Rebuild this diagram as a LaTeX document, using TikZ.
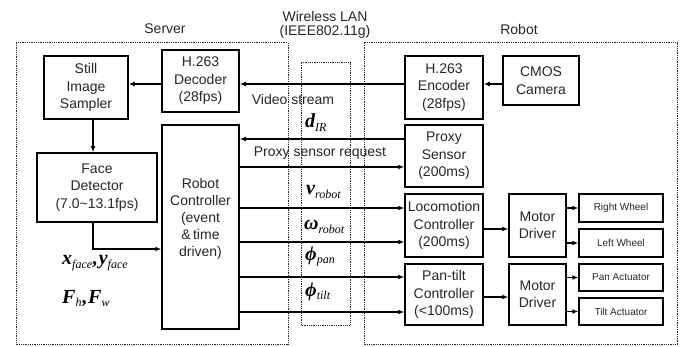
\documentclass[tikz,border=0pt]{standalone}
\usepackage{fontspec}
\setmainfont{Liberation Sans}
\newfontfamily\mserif{Liberation Serif}
\usetikzlibrary{arrows.meta}
\newcommand\mv[2]{{\mserif\bfseries\itshape\fontsize{20}{20}\selectfont #1}\raisebox{-3.5pt}{\mserif\itshape\fontsize{12}{12}\selectfont #2}}
\newcommand\mcomma{{\mserif\bfseries\fontsize{20}{20}\selectfont,}}
\begin{document}
\begin{tikzpicture}[x=1pt,y=-1pt,
  blk/.style={draw, line width=1.5pt, font=\fontsize{14}{17.5}\selectfont, align=center, inner sep=0pt, text=black!85},
  sm/.style={draw, line width=1.5pt, font=\fontsize{10}{11}\selectfont, align=center, inner sep=0pt, text=black!85},
  arr/.style={line width=1.3pt, -{Latex[length=6pt,width=5pt]}},
  dotbox/.style={draw, line width=1pt, dash pattern=on 1pt off 0.8pt, black!85},
  lbl/.style={font=\fontsize{14}{15}\selectfont, text=black!85, inner sep=0pt},
  ml/.style={anchor=base west, inner sep=0pt},
  ]
\useasboundingbox (0,0) rectangle (682,347);
% dotted regions
\draw[dotbox] (16,43) rectangle (288,344);
\draw[dotbox] (364,43) rectangle (677,344);
\draw[dotbox] (301,63) rectangle (350,325);
\node[lbl] (tserver) at (165,29) {Server};
\node[lbl] (trobot) at (519,29) {Robot};
\node[lbl] (twl1) at (325,16) {Wireless LAN};
\node[lbl] (twl2) at (325,32) {(IEEE802.11g)};
% server blocks
\node[blk, minimum width=84pt, minimum height=63pt] (still) at (86,87.5) {Still\\Image\\Sampler};
\node[blk, minimum width=77pt, minimum height=62pt] (dec) at (200.5,81) {H.263\\Decoder\\(28fps)};
\node[blk, minimum width=120pt, minimum height=69pt] (face) at (97,187.5) {Face\\Detector\\(7.0\textasciitilde13.1fps)};
\node[blk, minimum width=77pt, minimum height=204pt] (ctrl) at (200.5,227) {};
\node[lbl, align=center, font=\fontsize{14}{17}\selectfont] (ctrltxt) at (ctrl.center) [yshift=8pt] {Robot\\Controller\\(event\\\&\,time\\driven)};
% robot blocks
\node[blk, minimum width=78pt, minimum height=63pt] (enc) at (444,87.5) {H.263\\Encoder\\(28fps)};
\node[blk, minimum width=76pt, minimum height=49pt] (cam) at (541,80.5) {CMOS\\Camera};
\node[blk, minimum width=78pt, minimum height=62pt] (prox) at (444,156) {Proxy\\Sensor\\(200ms)};
\node[blk, minimum width=78pt, minimum height=63pt] (loco) at (444,225.5) {Locomotion\\Controller\\(200ms)};
\node[blk, minimum width=78pt, minimum height=61pt] (pt) at (444,294.5) {Pan-tilt\\Controller\\(<100ms)};
\node[blk, minimum width=57pt, minimum height=63pt] (md1) at (537.5,225.5) {Motor\\Driver};
\node[blk, minimum width=57pt, minimum height=61pt] (md2) at (537.5,294.5) {Motor\\Driver};
\node[sm, minimum width=84pt, minimum height=28pt] (rw) at (621,208) {Right Wheel};
\node[sm, minimum width=84pt, minimum height=28pt] (lw) at (621,243) {Left Wheel};
\node[sm, minimum width=84pt, minimum height=27pt] (pa) at (621,277.5) {Pan Actuator};
\node[sm, minimum width=84pt, minimum height=27pt] (ta) at (621,311.5) {Tilt Actuator};
% connectors
\path (dec.west) ++(0,3) coordinate (d1);
\draw[arr] (d1) -- (d1 -| still.east);
\path (still.south) ++(7,0) coordinate (s1);
\draw[arr] (s1) -- (s1 |- face.north);
\path (face.south) ++(-4,0) coordinate (f1);
\path (ctrl.west) ++(0,22) coordinate (c1);
\draw[arr] (f1) |- (c1);
\path (enc.west) ++(0,-3.5) coordinate (e1);
\draw[arr] (e1) -- (e1 -| dec.east);
\path (cam.west) ++(0,3.5) coordinate (cm1);
\draw[arr] (cm1) -- (cm1 -| enc.east);
\path (prox.west) ++(0,-17) coordinate (p1);
\draw[arr] (p1) -- (p1 -| ctrl.east);
\path (prox.west) ++(0,11) coordinate (p2);
\draw[arr] (p2 -| ctrl.east) -- (p2);
\path (loco.west) ++(0,-17.5) coordinate (l1);
\path (loco.west) ++(0,16.5) coordinate (l2);
\draw[arr] (l1 -| ctrl.east) -- (l1);
\draw[arr] (l2 -| ctrl.east) -- (l2);
\path (pt.west) ++(0,-17.5) coordinate (t1);
\path (pt.west) ++(0,17.5) coordinate (t2);
\draw[arr] (t1 -| ctrl.east) -- (t1);
\draw[arr] (t2 -| ctrl.east) -- (t2);
\path (loco.east) ++(0,3.5) coordinate (l3);
\draw[arr] (l3) -- (l3 -| md1.west);
\path (pt.east) ++(0,2.5) coordinate (t3);
\draw[arr] (t3) -- (t3 -| md2.west);
\draw[arr] (md1.east |- rw) -- (rw);
\draw[arr] (md1.east |- lw) -- (lw);
\draw[arr] (md2.east |- pa) -- (pa);
\draw[arr] (md2.east |- ta) -- (ta);
% labels
\node[lbl] (vs) at (293,99) {Video stream};
\node[lbl] (psr) at (320,153) {Proxy sensor request};
\node[ml] (dir) at (305,128) {\mv{d}{IR}};
\node[ml] (vr) at (306,195) {\mv{v}{robot}};
\node[ml] (wr) at (304,230) {\mv{ω}{robot}};
\node[ml] (pp) at (305,260) {\mv{ϕ}{pan}};
\node[ml] (pti) at (305,296) {\mv{ϕ}{tilt}};
\node[ml] (xy) at (62,265) {\mv{x}{face}\mcomma\,\mv{y}{face}};
\node[ml] (fhw) at (62,303) {\mv{F}{h}\mcomma\,\mv{F}{w}};
\end{tikzpicture}
\end{document}
